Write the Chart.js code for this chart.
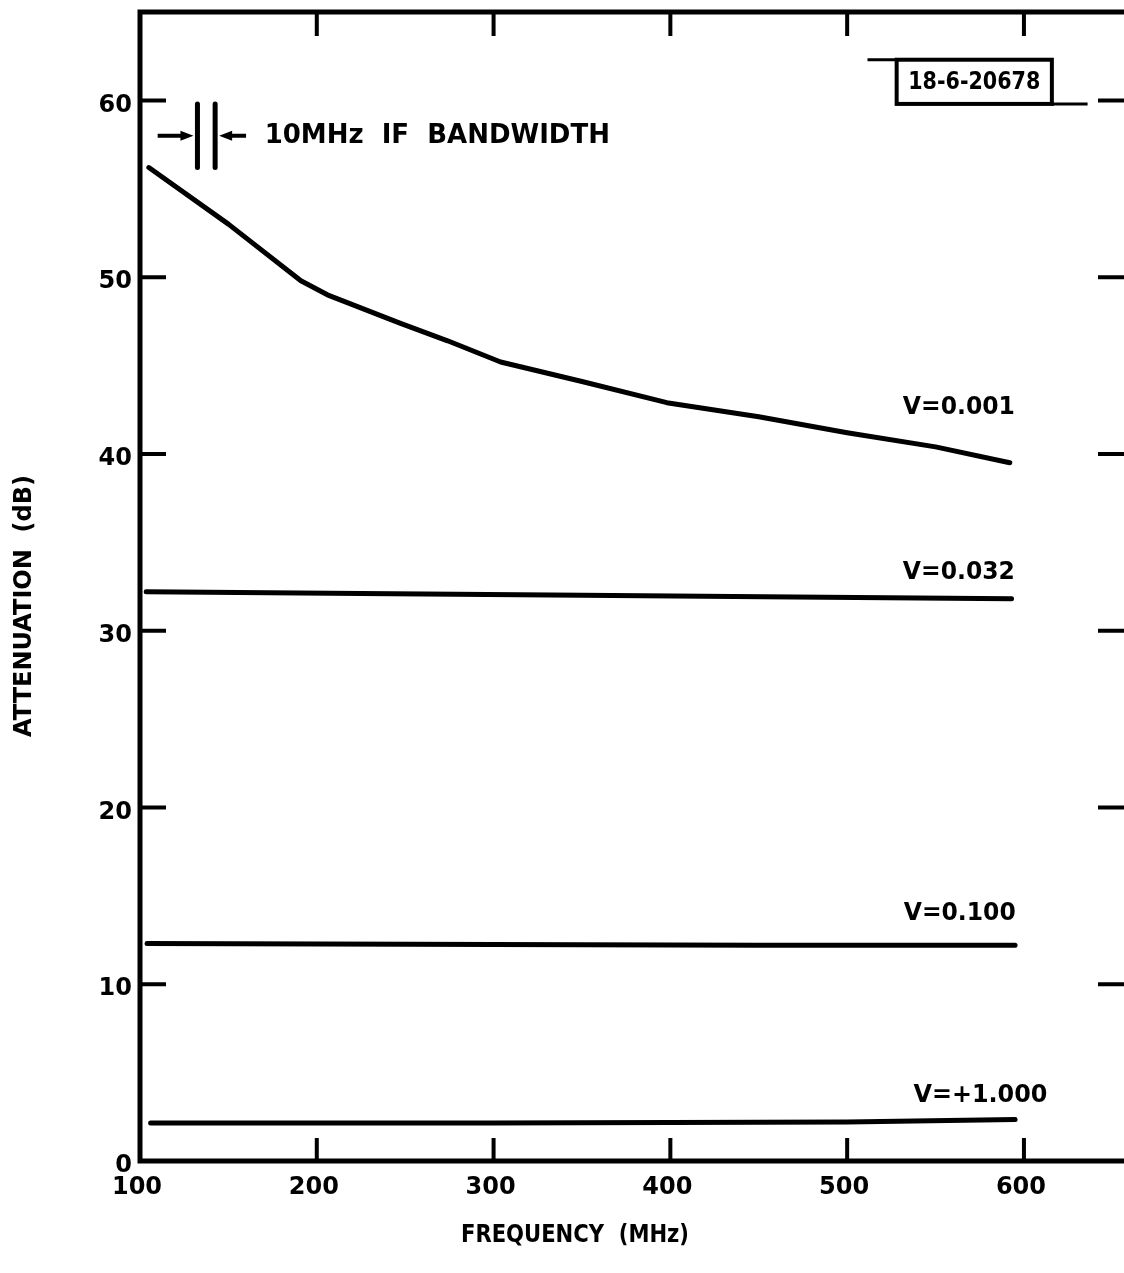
<!DOCTYPE html>
<html>
<head>
<meta charset="utf-8">
<script src="https://cdn.jsdelivr.net/npm/chart.js@4/dist/chart.umd.min.js"></script>
<style>
  html, body { margin: 0; padding: 0; background: #fff; overflow: hidden; }
  #wrap { width: 1124px; height: 1273px; }
</style>
</head>
<body>
<div id="wrap"><canvas id="myChart" width="1124" height="1273"></canvas></div>
<script>
// values (frequency in MHz, attenuation in dB)
const freqV001 = [105, 150, 191, 206, 247, 274, 304, 350, 398, 450, 500, 550, 592];
const attV001  = [56.2, 53.0, 49.8, 49.0, 47.4, 46.4, 45.2, 44.1, 42.9, 42.1, 41.2, 40.4, 39.5];
const freqV032 = [103.5, 225, 350, 470, 593];
const attV032  = [32.2, 32.1, 32.0, 31.9, 31.8];
const freqV100 = [104, 300, 450, 595];
const attV100  = [12.3, 12.25, 12.2, 12.2];
const freqV1000 = [106, 300, 500, 595];
const attV1000  = [2.15, 2.15, 2.2, 2.35];
const seriesNames = ["V=0.001", "V=0.032", "V=0.100", "V=+1.000"];

// IF bandwidth marker: two bars 10 MHz apart
const bwBarFreqs = [132.5, 142.5];
const bwBarLevels = [56.2, 59.8];

const xTicks = [100, 200, 300, 400, 500, 600];
const yTicks = [0, 10, 20, 30, 40, 50, 60];

const FONT = "'DejaVu Sans', sans-serif";
const INK = '#000';

function pts(xs, ys) {
    return xs.map((x, i) => ({x: x, y: ys[i]}));
}

function lineSet(label, data) {
    return {
        label: label,
        data: data,
        borderColor: INK,
        borderWidth: 5,
        pointRadius: 0,
        tension: 0,
        borderCapStyle: 'round',
        borderJoinStyle: 'round',
    };
}

// where the curve labels sit (data coords)
const labelSpots = [
    {x: 531.5, y: 42.6},
    {x: 531.5, y: 33.3},
    {x: 532, y: 14.0},
    {x: 537.5, y: 3.7},
];

let frame = {
    id: 'frame',
    afterDraw(chart) {
        const ctx = chart.ctx;
        const a = chart.chartArea;
        const xs = chart.scales.x, ys = chart.scales.y;
        ctx.save();
        ctx.strokeStyle = INK;
        ctx.fillStyle = INK;
        ctx.lineCap = 'butt';

        // frame: left, bottom, top (right edge lies outside the picture)
        ctx.lineWidth = 5;
        ctx.beginPath();
        ctx.moveTo(a.right, a.top);
        ctx.lineTo(a.left, a.top);
        ctx.lineTo(a.left, a.bottom);
        ctx.lineTo(a.right, a.bottom);
        ctx.stroke();

        // inward ticks
        ctx.lineWidth = 4;
        ctx.beginPath();
        xTicks.slice(1).forEach(v => {
            const px = xs.getPixelForValue(v);
            ctx.moveTo(px, a.top); ctx.lineTo(px, a.top + 24);
            ctx.moveTo(px, a.bottom); ctx.lineTo(px, a.bottom - 23);
        });
        yTicks.slice(1).forEach(v => {
            const py = ys.getPixelForValue(v);
            ctx.moveTo(a.left, py); ctx.lineTo(a.left + 26, py);
            ctx.moveTo(a.right - 26, py); ctx.lineTo(a.right, py);
        });
        ctx.stroke();

        // bandwidth arrows
        const ay = ys.getPixelForValue(58.0);
        const b0 = xs.getPixelForValue(bwBarFreqs[0]) - 4;
        const b1 = xs.getPixelForValue(bwBarFreqs[1]) + 4;
        ctx.lineWidth = 4;
        ctx.beginPath();
        ctx.moveTo(xs.getPixelForValue(110), ay); ctx.lineTo(b0 - 8, ay);
        ctx.moveTo(b1 + 8, ay); ctx.lineTo(xs.getPixelForValue(160), ay);
        ctx.stroke();
        ctx.beginPath();
        ctx.moveTo(b0, ay); ctx.lineTo(b0 - 13, ay - 5); ctx.lineTo(b0 - 13, ay + 5); ctx.closePath();
        ctx.moveTo(b1, ay); ctx.lineTo(b1 + 13, ay - 5); ctx.lineTo(b1 + 13, ay + 5); ctx.closePath();
        ctx.fill();

        ctx.font = 'bold 26px ' + FONT;
        ctx.textBaseline = 'middle';
        ctx.textAlign = 'left';
        ctx.fillText('10MHz  IF  BANDWIDTH', xs.getPixelForValue(170.5), ay + 1, 348);

        // curve labels
        ctx.font = 'bold 24px ' + FONT;
        seriesNames.forEach((name, i) => {
            const s = labelSpots[i];
            ctx.fillText(name, xs.getPixelForValue(s.x), ys.getPixelForValue(s.y), i == 3 ? 134 : 112);
        });

        // drawing number box
        const bl = xs.getPixelForValue(528), br = xs.getPixelForValue(615.8);
        const bt = ys.getPixelForValue(62.3), bb = ys.getPixelForValue(59.8);
        ctx.lineWidth = 4;
        ctx.strokeRect(bl, bt, br - bl, bb - bt);
        ctx.lineWidth = 3;
        ctx.beginPath();
        ctx.moveTo(xs.getPixelForValue(511.5), bt); ctx.lineTo(bl, bt);
        ctx.moveTo(br, bb); ctx.lineTo(xs.getPixelForValue(636), bb);
        ctx.stroke();
        ctx.font = "bold 25px 'DejaVu Sans Condensed', " + FONT;
        ctx.textAlign = 'center';
        ctx.fillText('18-6-20678', (bl + br) / 2, (bt + bb) / 2 + 1, 132);

        // axis titles
        ctx.font = 'bold 24px ' + FONT;
        ctx.fillText('FREQUENCY  (MHz)', 575, 1236, 228);
        ctx.translate(25, 606);
        ctx.rotate(-Math.PI / 2);
        ctx.fillText('ATTENUATION  (dB)', 0, 0, 274);
        ctx.restore();
    }
};

const ctx = document.getElementById('myChart').getContext('2d');
new Chart(ctx, {
    type: 'line',
    data: {
        datasets: [
            lineSet(seriesNames[0], pts(freqV001, attV001)),
            lineSet(seriesNames[1], pts(freqV032, attV032)),
            lineSet(seriesNames[2], pts(freqV100, attV100)),
            lineSet(seriesNames[3], pts(freqV1000, attV1000)),
            lineSet('bw1', pts([bwBarFreqs[0], bwBarFreqs[0]], bwBarLevels)),
            lineSet('bw2', pts([bwBarFreqs[1], bwBarFreqs[1]], bwBarLevels)),
        ]
    },
    options: {
        responsive: false,
        animation: false,
        layout: { padding: { top: 12, left: 0, right: 0, bottom: 0 } },
        plugins: { legend: { display: false }, tooltip: { enabled: false } },
        scales: {
            x: {
                type: 'linear',
                min: 100,
                max: 656.6,
                afterFit: s => { s.height = 112; s.paddingLeft = 0; s.paddingRight = 0; },
                afterBuildTicks: s => { s.ticks = xTicks.map(v => ({value: v})); },
                grid: { display: false, drawTicks: false },
                border: { display: false },
                ticks: {
                    color: INK,
                    padding: 12,
                    labelOffset: -3,
                    maxRotation: 0,
                    font: { family: FONT, size: 24, weight: 'bold' },
                },
            },
            y: {
                min: 0,
                max: 65,
                afterFit: s => { s.width = 140; s.paddingTop = 0; s.paddingBottom = 0; },
                afterBuildTicks: s => { s.ticks = yTicks.map(v => ({value: v})); },
                grid: { display: false, drawTicks: false },
                border: { display: false },
                ticks: {
                    color: INK,
                    padding: 8,
                    labelOffset: 5,
                    font: { family: FONT, size: 24, weight: 'bold' },
                },
            }
        }
    },
    plugins: [frame]
});
</script>
</body>
</html>
